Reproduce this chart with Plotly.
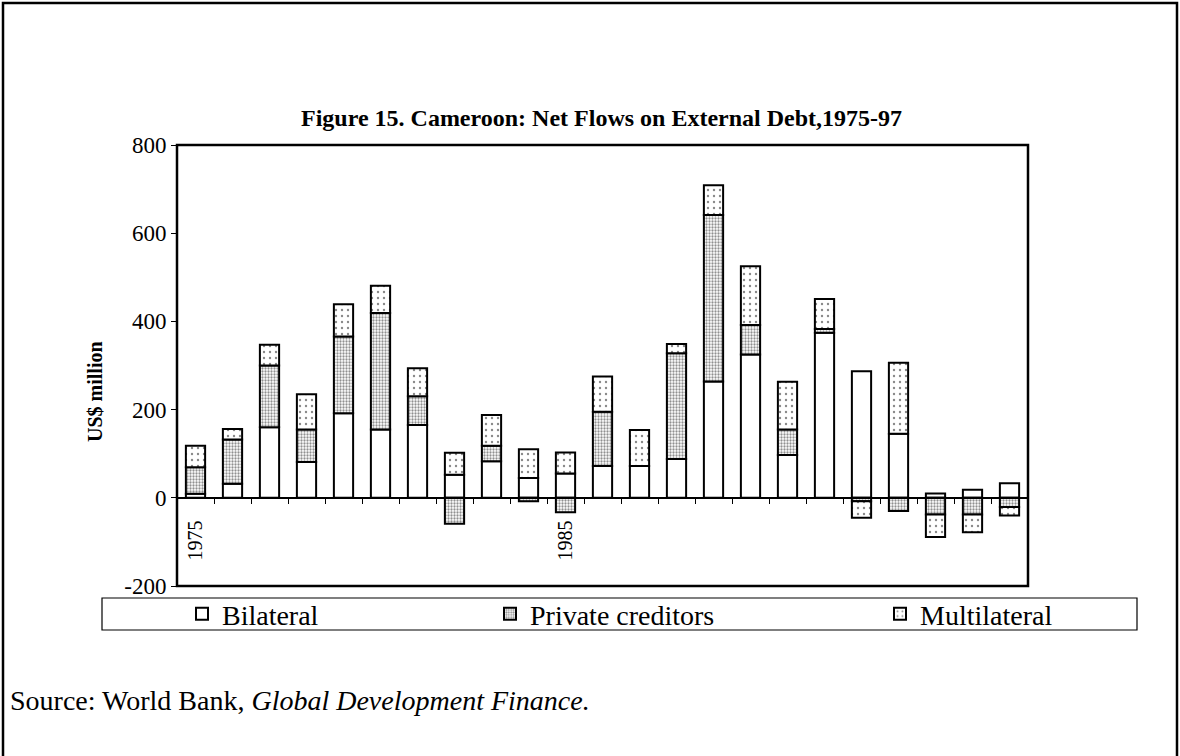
import plotly.graph_objects as go

# Net flows on external debt, Cameroon, US$ million
years = [str(y) for y in range(1975, 1998)]
bilateral = [9, 32, 160, 81, 192, 155, 165, 52, 83, 45, 55, 72, 72, 88, 264, 325, 97, 374, 287, 145, 10, 18, 33]
private_creditors = [60, 100, 140, 74, 174, 264, 65, -59, 35, -8, -33, 123, 0, 240, 377, 67, 58, 9, -8, -30, -38, -38, -21]
multilateral = [49, 24, 47, 80, 73, 62, 64, 50, 70, 65, 48, 80, 82, 21, 68, 133, 108, 68, -37, 161, -51, -40, -19]
year_labels = ["1975" if y == "1975" else "1985" if y == "1985" else "" for y in years]
y_ticks = [-200, 0, 200, 400, 600, 800]
y_tick_text = ["-200", "0", "200", "400", "600", "800"]

W, H = 1180, 756
L, R, T, B = 177, 152, 145, 170
PW, PH = W - L - R, H - T - B
SERIF = "Liberation Serif, Times New Roman, serif"


def px(x):
    return (x - L) / PW


def py(y):
    return (H - B - y) / PH


outline = dict(color="black", width=2)

fig = go.Figure()
fig.add_trace(go.Bar(
    x=years, y=bilateral, name="Bilateral", legend="legend", showlegend=True,
    marker=dict(color="white", line=outline),
))
fig.add_trace(go.Bar(
    x=years, y=private_creditors, name="Private creditors", legend="legend2", showlegend=True,
    marker=dict(color="white", line=outline,
                pattern=dict(shape=".", size=3, solidity=0.45, fgcolor="#222", bgcolor="white")),
))
fig.add_trace(go.Bar(
    x=years, y=multilateral, name="Multilateral", legend="legend3", showlegend=True,
    marker=dict(color="white", line=outline,
                pattern=dict(shape=".", size=6, solidity=0.12, fgcolor="#111", bgcolor="white")),
))

legend_common = dict(
    orientation="h", yanchor="middle", xanchor="left", y=py(614),
    bgcolor="rgba(0,0,0,0)", borderwidth=0,
    font=dict(family=SERIF, size=28, color="black"),
)

fig.update_layout(
    width=W, height=H, autosize=False,
    margin=dict(l=L, r=R, t=T, b=B, pad=0),
    paper_bgcolor="white", plot_bgcolor="white",
    showlegend=True,
    barmode="relative", bargap=0.48,
    font=dict(family=SERIF, color="black"),
    legend=dict(x=px(182), **legend_common),
    legend2=dict(x=px(490), **legend_common),
    legend3=dict(x=px(880), **legend_common),
    xaxis=dict(
        type="category", anchor="free", position=0.2,
        tickmode="array", tickvals=years, ticktext=year_labels,
        tickson="boundaries", ticks="outside", ticklen=5, tickwidth=1, tickcolor="black",
        tickangle=-90, ticklabelstandoff=14,
        tickfont=dict(family=SERIF, size=20, color="black"),
        showline=True, linecolor="black", linewidth=1.5,
        showgrid=False, zeroline=False, fixedrange=True,
    ),
    yaxis=dict(
        range=[-200, 800], tickmode="array", tickvals=y_ticks, ticktext=y_tick_text,
        ticks="outside", ticklen=5, tickwidth=1, tickcolor="black",
        tickfont=dict(family=SERIF, size=23, color="black"),
        showgrid=False, zeroline=False, showline=False, fixedrange=True,
    ),
    shapes=[
        # plot frame
        dict(type="rect", xref="paper", yref="paper", x0=0, x1=1, y0=0, y1=1,
             line=dict(color="black", width=2.5)),
        # legend box
        dict(type="rect", xref="paper", yref="paper",
             x0=px(102), x1=px(1137), y0=py(630), y1=py(598),
             line=dict(color="black", width=1.2)),
        # outer page border
        dict(type="rect", xref="paper", yref="paper",
             x0=px(3), x1=px(1177), y0=py(770), y1=py(3),
             line=dict(color="black", width=2.5)),
    ],
    annotations=[
        dict(text="<b>Figure 15. Cameroon: Net Flows on External Debt,1975-97</b>",
             xref="paper", yref="paper", x=px(601), y=py(118),
             xanchor="center", yanchor="middle", showarrow=False,
             font=dict(family=SERIF, size=24, color="black")),
        dict(text="<b>US$ million</b>", textangle=-90,
             xref="paper", yref="paper", x=px(95), y=py(392),
             xanchor="center", yanchor="middle", showarrow=False,
             font=dict(family=SERIF, size=20, color="black")),
        dict(text="Source: World Bank, <i>Global Development Finance.</i>",
             xref="paper", yref="paper", x=px(8), y=py(700),
             xanchor="left", yanchor="middle", showarrow=False,
             font=dict(family=SERIF, size=28, color="black")),
    ],
)

fig.write_html("out.html")
